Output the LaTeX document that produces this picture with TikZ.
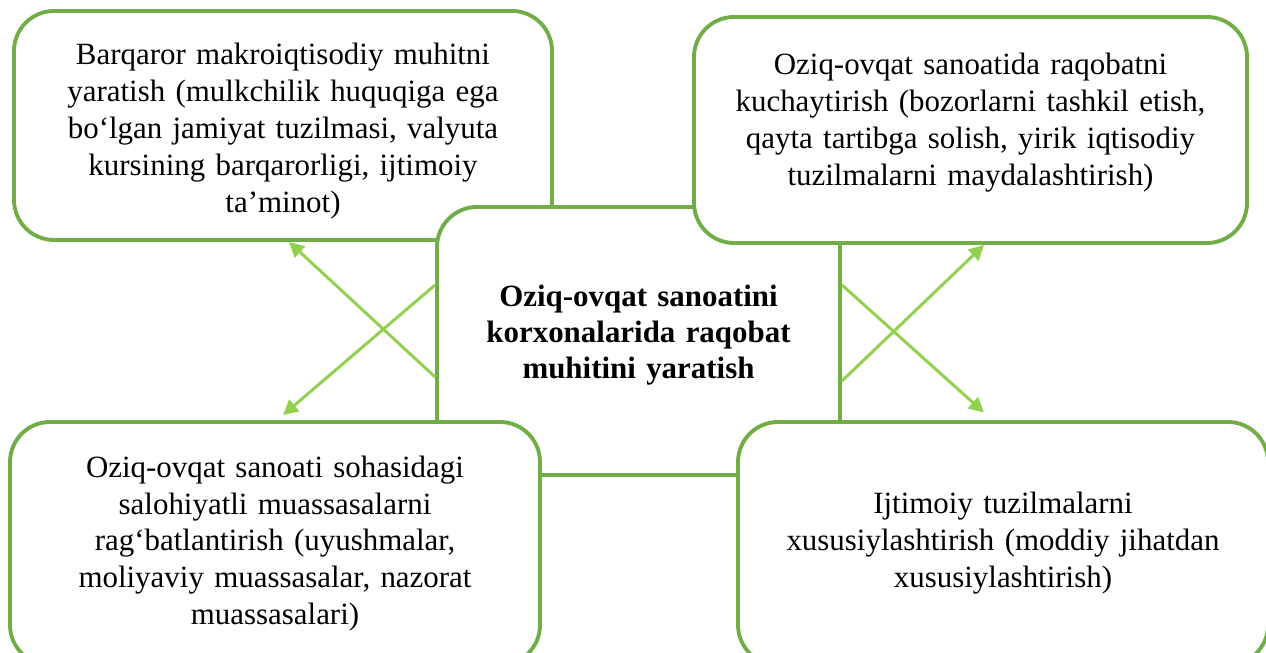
\documentclass[tikz,border=0pt]{standalone}
\usepackage{fontspec}
\setmainfont{Liberation Serif}
\usepackage{tikz}
\usetikzlibrary{arrows.meta, positioning}
\usepackage{xcolor}
\definecolor{boxgreen}{HTML}{70AD47}
\definecolor{arrgreen}{HTML}{92D050}

\begin{document}
\begin{tikzpicture}[
    idea/.style={draw=boxgreen, line width=2.2pt, rounded corners=0.8cm, fill=white,
                 minimum width=10.6cm, minimum height=4.86cm, text width=9.8cm,
                 align=center, font=\fontsize{17.6}{21}\selectfont},
    core/.style={draw=boxgreen, line width=2.2pt, rounded corners=0.8cm, fill=white,
                 minimum width=8.06cm, minimum height=5.36cm, text width=7.4cm,
                 align=center, font=\fontsize{17.6}{20.5}\selectfont\bfseries},
    arr/.style={-{Triangle[length=3mm, width=3mm]}, draw=arrgreen, line width=1.7pt}
  ]
    \useasboundingbox (0,0) rectangle (25.32,13.06);
    \clip (0,0) rectangle (25.32,13.06);

    \node[idea, minimum width=10.76cm, minimum height=4.58cm] (macro) at (5.66,10.55)
      {\rule{0pt}{0.65cm}Barqaror makroiqtisodiy muhitni\\ yaratish (mulkchilik huquqiga ega\\
       bo‘lgan jamiyat tuzilmasi, valyuta\\ kursining barqarorligi, ijtimoiy\\ ta’minot)};
    \node[core] (goal) at (12.77,6.24)
      {Oziq-ovqat sanoatini\\ korxonalarida raqobat\\ muhitini yaratish\rule[-0.35cm]{0pt}{0pt}};
    \node[idea, minimum width=11.06cm, minimum height=4.52cm] (compet) at (19.41,10.46)
      {Oziq-ovqat sanoatida raqobatni\\ kuchaytirish (bozorlarni tashkil etish,\\
       qayta tartibga solish, yirik iqtisodiy\\ tuzilmalarni maydalashtirish)\rule[-0.42cm]{0pt}{0pt}};
    \node[idea] (instit) at (5.50,2.19)
      {Oziq-ovqat sanoati sohasidagi\\ salohiyatli muassasalarni\\
       rag‘batlantirish (uyushmalar,\\ moliyaviy muassasalar, nazorat\\ muassasalari)};
    \node[idea] (privat) at (20.06,2.19)
      {Ijtimoiy tuzilmalarni\\ xususiylashtirish (moddiy jihatdan\\ xususiylashtirish)};

    \draw[arr] ([yshift=-0.72cm]goal.west) -- ([xshift=0.12cm]macro.south);
    \draw[arr] ([yshift=1.12cm]goal.west)  -- ([xshift=0.16cm, yshift=0.1cm]instit.north);
    \draw[arr] ([yshift=-0.80cm]goal.east) -- ([xshift=0.27cm]compet.south);
    \draw[arr] ([yshift=1.12cm]goal.east)  -- ([xshift=-0.38cm, yshift=0.15cm]privat.north);
  \end{tikzpicture}
\end{document}
